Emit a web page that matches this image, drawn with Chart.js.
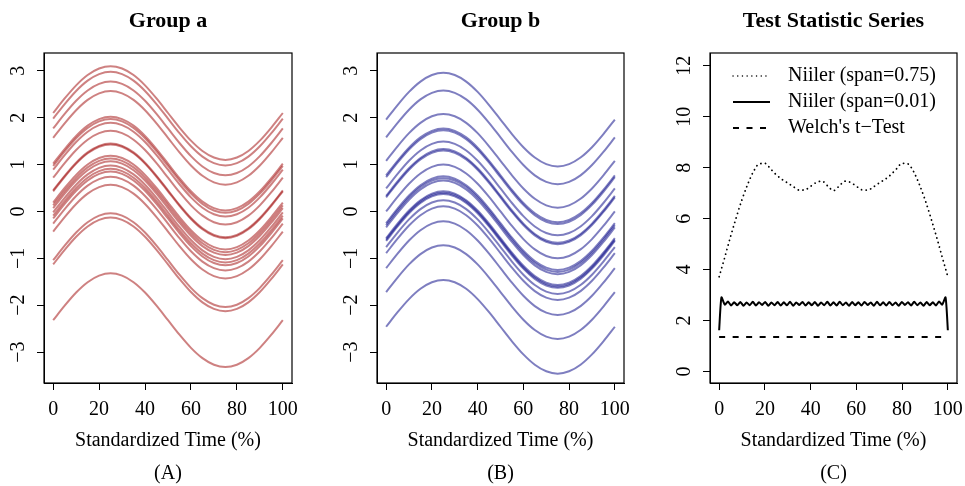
<!DOCTYPE html>
<html>
<head>
<meta charset="utf-8">
<script src="https://cdn.jsdelivr.net/npm/chart.js@4.4.1/dist/chart.umd.min.js"></script>
<style>
  body { margin: 0; background: #fff; }
  canvas.panel { position: absolute; top: 0; }
</style>
</head>
<body>
<canvas id="groupA" class="panel" width="322" height="486" style="left:0px"></canvas>
<canvas id="groupB" class="panel" width="322" height="486" style="left:322px"></canvas>
<canvas id="testStat" class="panel" width="321" height="486" style="left:644px"></canvas>
<script>
// time grid and the common wave shape (deviation from each curve's start)
const timeGrid = [0, 5, 10, 15, 20, 25, 30, 35, 40, 45, 50, 55, 60, 65, 70, 75, 80, 85, 90, 95, 100];
const curveShape = [0, 0.31, 0.59, 0.81, 0.95, 1, 0.95, 0.81, 0.59, 0.31, 0, -0.31, -0.59, -0.81, -0.95, -1, -0.95, -0.81, -0.59, -0.31, 0];

// starting level of every curve
const offsetsA = [2.10, 1.98, 1.77, 1.57, 1.02, 0.97, 0.89, 0.72, 0.45, 0.43, 0.19, 0.13, 0.07, -0.02, -0.09, -0.15, -0.26, -0.43, -1.04, -1.13, -2.32];
const offsetsB = [1.96, 1.58, 1.08, 0.77, 0.73, 0.49, 0.33, 0.30, 0.0, -0.25, -0.29, -0.34, -0.57, -0.60, -0.63, -0.76, -0.89, -1.21, -1.72, -2.46];

// test statistic series
const smoothTime = [0, 2.5, 5, 7.5, 10, 12.5, 15, 17.5, 20, 22.5, 25, 27.5, 30, 32.5, 35, 37.5, 40, 42.5, 45, 47.5, 50,
  52.5, 55, 57.5, 60, 62.5, 65, 67.5, 70, 72.5, 75, 77.5, 80, 82.5, 85, 87.5, 90, 92.5, 95, 97.5, 100];
const smoothStat = [3.72, 4.5, 5.3, 6.05, 6.75, 7.35, 7.85, 8.15, 8.17, 7.95, 7.72, 7.54, 7.4, 7.25, 7.12, 7.13, 7.27, 7.42, 7.47, 7.28, 7.1,
  7.28, 7.47, 7.42, 7.27, 7.13, 7.12, 7.25, 7.4, 7.54, 7.72, 7.95, 8.17, 8.15, 7.85, 7.35, 6.75, 6.05, 5.3, 4.5, 3.72];

const niilerTime = [0, 1,
  2.5, 3.86, 5.21, 6.57, 7.93, 9.29, 10.64, 12.0, 13.36, 14.71,
  16.07, 17.43, 18.79, 20.14, 21.5, 22.86, 24.21, 25.57, 26.93, 28.29,
  29.64, 31.0, 32.36, 33.71, 35.07, 36.43, 37.79, 39.14, 40.5, 41.86,
  43.21, 44.57, 45.93, 47.29, 48.64, 50.0, 51.36, 52.71, 54.07, 55.43,
  56.79, 58.14, 59.5, 60.86, 62.21, 63.57, 64.93, 66.29, 67.64, 69.0,
  70.36, 71.71, 73.07, 74.43, 75.79, 77.14, 78.5, 79.86, 81.21, 82.57,
  83.93, 85.29, 86.64, 88.0, 89.36, 90.71, 92.07, 93.43, 94.79, 96.14,
  97.5,
  99, 100];
const niilerStat = [1.62, 2.91,
  2.62, 2.75, 2.59, 2.72, 2.60, 2.73, 2.58, 2.71, 2.60, 2.74,
  2.59, 2.72, 2.61, 2.73, 2.58, 2.71, 2.60, 2.73, 2.59, 2.72,
  2.60, 2.74, 2.58, 2.71, 2.61, 2.73, 2.59, 2.72, 2.60, 2.73,
  2.58, 2.71, 2.60, 2.74, 2.59, 2.72, 2.59, 2.74, 2.60, 2.71,
  2.58, 2.73, 2.60, 2.72, 2.59, 2.73, 2.61, 2.71, 2.58, 2.74,
  2.60, 2.72, 2.59, 2.73, 2.60, 2.71, 2.58, 2.73, 2.61, 2.72,
  2.59, 2.74, 2.60, 2.71, 2.58, 2.73, 2.60, 2.72, 2.59, 2.75,
  2.62,
  2.91, 1.62];
const welchTime = [0, 100];
const welchStat = [1.36, 1.36];

// tick labels
const timeTicks = [0, 20, 40, 60, 80, 100];
const groupTicks = [-3, -2, -1, 0, 1, 2, 3];
const statTicks = [0, 2, 4, 6, 8, 10, 12];

const serif = '"Liberation Serif", "Times New Roman", serif';

// box around the plot, titles, captions and R-style vertical y labels
const framePlugin = {
  id: 'frame',
  afterDraw(chart, args, opts) {
    const {ctx, chartArea: a} = chart;
    const mid = (a.left + a.right) / 2;
    ctx.save();
    ctx.strokeStyle = '#000';
    ctx.lineWidth = 1.2;
    ctx.strokeRect(a.left, a.top, a.right - a.left, a.bottom - a.top);
    ctx.fillStyle = '#000';
    ctx.textAlign = 'center';
    ctx.textBaseline = 'middle';
    ctx.font = 'bold 22px ' + serif;
    ctx.fillText(opts.title, mid, 21);
    ctx.font = '20px ' + serif;
    ctx.fillText(opts.caption, mid, 474);
    const ys = chart.scales.y;
    ys.ticks.forEach(t => {
      ctx.save();
      ctx.translate(a.left - 20, ys.getPixelForValue(t.value));
      ctx.rotate(-Math.PI / 2);
      ctx.textBaseline = 'alphabetic';
      ctx.fillText(String(t.value).replace('-', '\u2212'), 0, 0);
      ctx.restore();
    });
    ctx.restore();
  }
};

// legend in the top-left corner of the plot
const insideLegend = {
  id: 'insideLegend',
  afterDraw(chart, args, opts) {
    if (!opts.show) return;
    const {ctx, chartArea: a} = chart;
    ctx.save();
    ctx.font = '20px ' + serif;
    ctx.fillStyle = '#000';
    ctx.textBaseline = 'middle';
    chart.data.datasets.forEach((ds, i) => {
      const y = a.top + 23 + i * 26;
      ctx.beginPath();
      ctx.strokeStyle = '#000';
      ctx.lineWidth = ds.legendWidth || ds.borderWidth;
      ctx.lineCap = ds.borderCapStyle || 'butt';
      ctx.setLineDash(ds.borderDash || []);
      ctx.moveTo(a.left + 23, y);
      ctx.lineTo(a.left + 60, y);
      ctx.stroke();
      ctx.fillText(ds.label, a.left + 78, y);
    });
    ctx.restore();
  }
};

function makeScales(yMin, yMax, yTicks, yWidth) {
  return {
    x: {
      type: 'linear', min: -4, max: 104,
      afterBuildTicks: s => { s.ticks = timeTicks.map(v => ({value: v})); },
      afterFit: s => { s.height = 79; s.paddingLeft = 0; s.paddingRight = 0; },
      ticks: { color: '#000', padding: 8, font: { family: serif, size: 20 } },
      grid: { drawOnChartArea: false, drawTicks: true, tickLength: 7, color: '#000' },
      border: { display: true, color: '#000' },
      title: { display: true, text: 'Standardized Time (%)', color: '#000',
        font: { family: serif, size: 20 }, padding: { top: 0, bottom: 9 } }
    },
    y: {
      type: 'linear', min: yMin, max: yMax,
      afterBuildTicks: s => { s.ticks = yTicks.map(v => ({value: v})); },
      afterFit: s => { s.width = yWidth; s.paddingTop = 0; s.paddingBottom = 0; },
      ticks: { display: false },
      grid: { drawOnChartArea: false, drawTicks: true, tickLength: 7, color: '#000' },
      border: { display: true, color: '#000' }
    }
  };
}

function groupDatasets(offsets, color) {
  return offsets.map(off => ({
    data: timeGrid.map((t, i) => ({x: t, y: off + curveShape[i]})),
    borderColor: color,
    borderWidth: 2,
    pointRadius: 0,
    cubicInterpolationMode: 'monotone'
  }));
}

function drawGroup(canvas, title, caption, offsets, color, yWidth, padRight) {
  new Chart(canvas, {
    type: 'line',
    data: { datasets: groupDatasets(offsets, color) },
    options: {
      responsive: false,
      animation: false,
      layout: { autoPadding: false, padding: { top: 53, bottom: 24, left: 0, right: padRight } },
      scales: makeScales(-3.66, 3.38, groupTicks, yWidth),
      plugins: {
        legend: { display: false },
        tooltip: { enabled: false },
        frame: { title: title, caption: caption },
        insideLegend: { show: false }
      }
    },
    plugins: [framePlugin, insideLegend]
  });
}

drawGroup(document.getElementById('groupA'), 'Group a', '(A)', offsetsA, 'rgba(165,25,25,0.55)', 44, 30);
drawGroup(document.getElementById('groupB'), 'Group b', '(B)', offsetsB, 'rgba(20,20,140,0.55)', 55, 20);

new Chart(document.getElementById('testStat'), {
  type: 'line',
  data: {
    datasets: [
      { label: 'Niiler (span=0.75)', data: smoothTime.map((t, i) => ({x: t, y: smoothStat[i]})),
        borderColor: '#000', borderWidth: 1.8, legendWidth: 1.4, borderDash: [0.1, 4.6], borderCapStyle: 'round',
        pointRadius: 0, cubicInterpolationMode: 'monotone' },
      { label: 'Niiler (span=0.01)', data: niilerTime.map((t, i) => ({x: t, y: niilerStat[i]})),
        borderColor: '#000', borderWidth: 2, pointRadius: 0, tension: 0.2 },
      { label: "Welch's t\u2212Test", data: welchTime.map((t, i) => ({x: t, y: welchStat[i]})),
        borderColor: '#000', borderWidth: 2, borderDash: [6, 7.5], pointRadius: 0 }
    ]
  },
  options: {
    responsive: false,
    animation: false,
    layout: { autoPadding: false, padding: { top: 53, bottom: 24, left: 0, right: 8 } },
    scales: makeScales(-0.45, 12.5, statTicks, 66),
    plugins: {
      legend: { display: false },
      tooltip: { enabled: false },
      frame: { title: 'Test Statistic Series', caption: '(C)' },
      insideLegend: { show: true }
    }
  },
  plugins: [framePlugin, insideLegend]
});
</script>
</body>
</html>
